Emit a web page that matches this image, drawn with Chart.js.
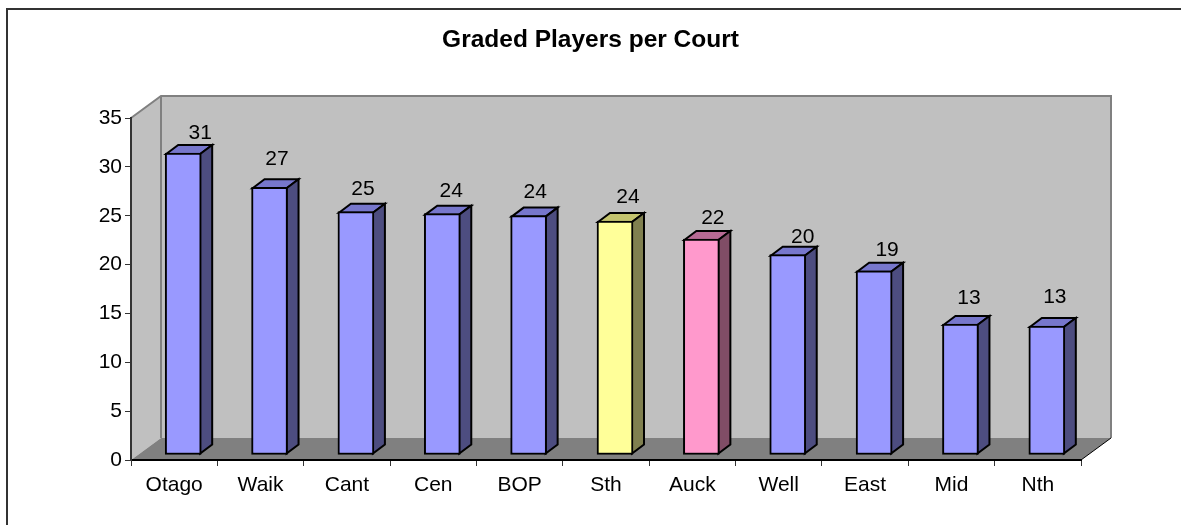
<!DOCTYPE html>
<html>
<head>
<meta charset="utf-8">
<style>
  html, body { margin: 0; padding: 0; background: #fff; }
  #wrap { position: relative; width: 1181px; height: 525px; }
</style>
<script src="https://cdn.jsdelivr.net/npm/chart.js@4"></script>
</head>
<body>
<div id="wrap"><canvas id="chart" width="1181" height="525"></canvas></div>
<script>
const categories = ['Otago', 'Waik', 'Cant', 'Cen', 'BOP', 'Sth', 'Auck', 'Well', 'East', 'Mid', 'Nth'];
const playersPerCourt = [30.9, 27.4, 24.9, 24.7, 24.5, 23.95, 22.1, 20.5, 18.85, 13.4, 13.2];
const valueLabels = ['31', '27', '25', '24', '24', '24', '22', '20', '19', '13', '13'];

const blue = ['#9999ff', '#7777cc', '#4d4d80'];
const yellow = ['#ffff99', '#c4c46e', '#808050'];
const pink = ['#ff99cc', '#b76a94', '#804d66'];
const barShades = categories.map((name) => name === 'Sth' ? yellow : name === 'Auck' ? pink : blue);

// 3d box offsets, px
const wallDx = 30, wallDy = 22;
const barDx = 12, barDy = 9;
const barOffsetX = 9, barOffsetY = 5;

// the labels were dragged by hand in the original, so each has its own nudge from the bar top
const labelNudgeX = [17, 7.5, 7, 9, 6.5, 13, 11.5, 15, 13, 8.5, 8];
const labelNudgeY = [15, 23, 18, 18, 19, 19, 16, 13, 16, 21, 24];

function poly(ctx, pts, fill, stroke, lineWidth) {
  ctx.beginPath();
  pts.forEach((p, i) => i ? ctx.lineTo(p[0], p[1]) : ctx.moveTo(p[0], p[1]));
  ctx.closePath();
  if (fill) { ctx.fillStyle = fill; ctx.fill(); }
  if (stroke) { ctx.strokeStyle = stroke; ctx.lineWidth = lineWidth; ctx.stroke(); }
}

const walls = {
  id: 'walls',
  beforeDraw(chart) {
    const { ctx, chartArea: a } = chart;
    const l = a.left, r = a.right, t = a.top, b = a.bottom;
    ctx.save();
    // frame, only top and left show in the picture
    ctx.strokeStyle = '#333';
    ctx.lineWidth = 2;
    ctx.beginPath();
    ctx.moveTo(7, 525);
    ctx.lineTo(7, 9);
    ctx.lineTo(1181, 9);
    ctx.stroke();

    poly(ctx, [[l + wallDx, t - wallDy], [r + wallDx, t - wallDy], [r + wallDx, b - wallDy], [l + wallDx, b - wallDy]], '#c0c0c0');
    poly(ctx, [[l, t], [l + wallDx, t - wallDy], [l + wallDx, b - wallDy], [l, b]], '#c0c0c0');
    poly(ctx, [[l, b], [l + wallDx, b - wallDy], [r + wallDx, b - wallDy], [r, b]], '#808080');
    ctx.strokeStyle = '#808080';
    ctx.lineWidth = 2;
    ctx.beginPath();
    ctx.moveTo(l, t);
    ctx.lineTo(l + wallDx, t - wallDy);
    ctx.lineTo(r + wallDx, t - wallDy);
    ctx.lineTo(r + wallDx, b - wallDy);
    ctx.moveTo(l + wallDx, t - wallDy);
    ctx.lineTo(l + wallDx, b - wallDy);
    ctx.stroke();
    ctx.strokeStyle = '#000';
    ctx.lineWidth = 1;
    ctx.beginPath();
    ctx.moveTo(r, b);
    ctx.lineTo(r + wallDx, b - wallDy);
    ctx.stroke();
    ctx.restore();
  },
  beforeDatasetsDraw(chart) {
    const { ctx } = chart;
    // bars sit in the middle of the floor depth
    ctx.save();
    ctx.translate(barOffsetX, -barOffsetY);
    ctx.lineJoin = 'miter';
    chart.getDatasetMeta(0).data.forEach((bar, i) => {
      const x0 = bar.x - bar.width / 2 + 1, x1 = bar.x + bar.width / 2 - 1;
      const top = bar.y + 1, base = bar.base - 1;
      const shade = barShades[i];
      poly(ctx, [[x0, top], [x0 + barDx, top - barDy], [x1 + barDx, top - barDy], [x1, top]], shade[1], '#000', 2);
      poly(ctx, [[x1, top], [x1 + barDx, top - barDy], [x1 + barDx, base - barDy], [x1, base]], shade[2], '#000', 2);
    });
    ctx.restore();
    ctx.save();
    ctx.translate(barOffsetX, -barOffsetY);
  },
  afterDatasetsDraw(chart) {
    const { ctx } = chart;
    ctx.restore();
    ctx.save();
    ctx.fillStyle = '#000';
    ctx.font = '21px "Liberation Sans"';
    ctx.textAlign = 'center';
    ctx.textBaseline = 'alphabetic';
    chart.getDatasetMeta(0).data.forEach((bar, i) => {
      ctx.fillText(valueLabels[i], bar.x + barOffsetX + labelNudgeX[i], bar.y - barOffsetY + 1 - labelNudgeY[i]);
    });
    ctx.restore();
  }
};

new Chart(document.getElementById('chart'), {
  type: 'bar',
  data: {
    labels: categories,
    datasets: [{
      data: playersPerCourt,
      backgroundColor: barShades.map((s) => s[0]),
      borderColor: '#000',
      borderWidth: 2,
      borderSkipped: false,
      barThickness: 36
    }]
  },
  options: {
    responsive: false,
    animation: false,
    scales: {
      x: {
        afterFit: (scale) => { scale.height = 65; },
        grid: { drawOnChartArea: false, tickLength: 6, tickColor: '#333', offset: true },
        border: { color: '#000', width: 2 },
        ticks: { color: '#000', font: { family: 'Liberation Sans', size: 21 }, padding: 7, maxRotation: 0 }
      },
      y: {
        min: 0,
        max: 35,
        afterFit: (scale) => { scale.width = 131; },
        grid: { drawOnChartArea: false, tickLength: 6, tickColor: '#333' },
        border: { color: '#333', width: 2 },
        ticks: { stepSize: 5, color: '#000', font: { family: 'Liberation Sans', size: 21 }, padding: 3 }
      },
      // empty axis, keeps the plot 100px off the right edge with the title centred on the page
      spacer: {
        position: 'right',
        afterFit: (scale) => { scale.width = 100; },
        grid: { display: false },
        border: { display: false },
        ticks: { display: false }
      }
    },
    plugins: {
      legend: { display: false },
      tooltip: { enabled: false },
      title: {
        display: true,
        text: 'Graded Players per Court',
        color: '#000',
        font: { family: 'Liberation Sans', size: 24.5, weight: 'bold', lineHeight: 1.2 },
        padding: { top: 25.3, bottom: 63.3 }
      }
    }
  },
  plugins: [walls]
});
</script>
</body>
</html>
